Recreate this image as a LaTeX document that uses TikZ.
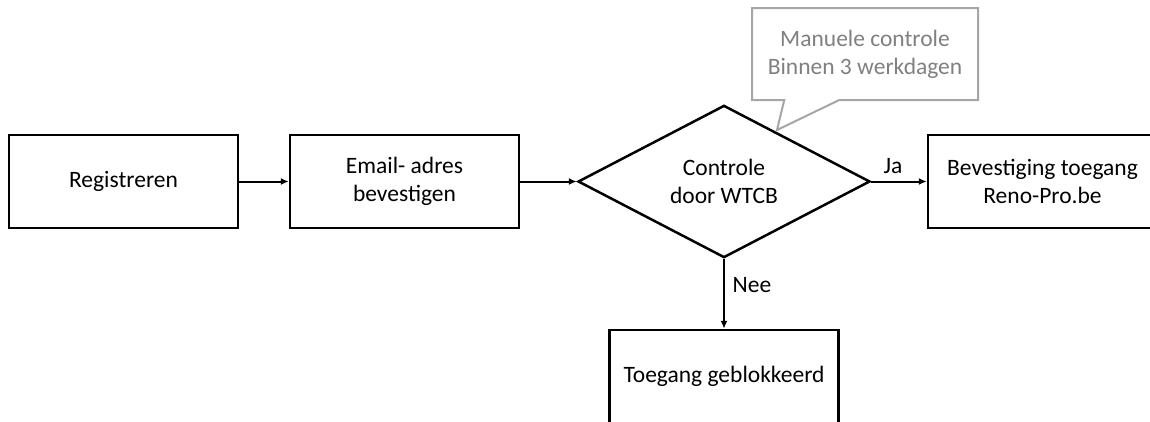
\documentclass[tikz,border=0pt]{standalone}
\usepackage{fontspec}
\setmainfont{Carlito}
\usetikzlibrary{shapes.geometric,shapes.callouts,arrows.meta}

\begin{document}
\begin{tikzpicture}
		[x=1pt,y=-1pt,font=\fontsize{23.5}{28}\selectfont,
		box/.style={rectangle, draw, line width=2.5pt, minimum width=229pt,
		minimum height=93pt, align=center, inner sep=0pt},
		check/.style={diamond, draw, line width=2.5pt, minimum width=292pt,
		minimum height=132pt, align=center, inner sep=0pt},
		note/.style={rectangle callout, draw=gray!70, line width=2pt, text=black!50,
		minimum width=226pt, minimum height=92pt, align=center, inner sep=0pt,
		callout pointer width=55pt},
		flow/.style={-{Latex[length=8pt,width=7pt]}, line width=2pt}]
		\useasboundingbox (0,0) rectangle (1150,421);
		\clip (0,0) rectangle (1150,421);
		%-----steps
		 \node[box]  (reg) at (123.5,181.5) {Registreren};
		 \node[box]  (mail) at (404.5,181.5) {Email- adres\\bevestigen};
		 \node[check]  (wtcb) at (724,181.5) {Controle\\door WTCB};
		 \node[box]  (ok) at (1042.5,181.5) {Bevestiging toegang\\Reno-Pro.be};
		 \node[box]  (blok) at (724,376.5) {Toegang geblokkeerd};
		 \node[note, callout absolute pointer={(777,130)}]  (manual) at (865,54) {Manuele controle\\Binnen 3 werkdagen};
		 \node  (ja) at (893,166) {Ja};
		 \node  (nee) at (752,285) {Nee};
		 
		 \foreach \from/\to in {reg/mail,mail/wtcb,wtcb/ok,wtcb/blok}
		 \draw[flow] (\from) -- (\to);
		 
\end{tikzpicture}
\end{document}
